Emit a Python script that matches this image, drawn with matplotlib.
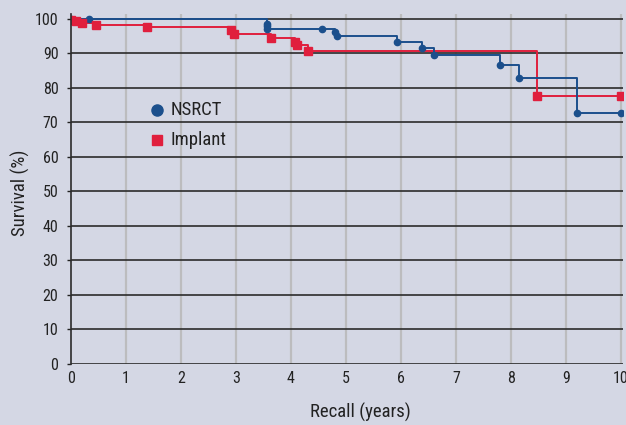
import matplotlib
matplotlib.use("Agg")
import matplotlib.pyplot as plt

# Kaplan-Meier style survival steps
nsrct_years = [0.0, 0.33, 3.56, 3.56, 3.56, 4.56, 4.80, 4.84, 5.93, 6.39, 6.61, 7.81, 8.15, 9.21, 10.0]
nsrct_surv = [100.0, 100.0, 98.6, 97.8, 97.2, 97.2, 96.1, 94.9, 93.4, 91.7, 89.6, 86.5, 82.8, 72.6, 72.6]

implant_years = [0.0, 0.09, 0.20, 0.45, 1.39, 2.91, 2.96, 3.64, 4.07, 4.11, 4.31, 8.47, 10.0]
implant_surv = [99.8, 99.5, 98.8, 98.3, 97.6, 96.8, 95.6, 94.4, 93.2, 92.3, 90.8, 77.6, 77.6]

series_names = ["NSRCT", "Implant"]
x_ticks = list(range(0, 11))
y_ticks = list(range(0, 101, 10))

bg = "#d4d7e4"
blue = "#1b4f8c"
red = "#e01f3d"
ink = "#222222"

plt.rcParams["font.family"] = ["Roboto Condensed", "Archivo Narrow", "DejaVu Sans"]

fig = plt.figure(figsize=(6.26, 4.25), dpi=100)
fig.patch.set_facecolor(bg)
ax = fig.add_axes([0.1134, 0.1435, 0.882, 0.8235])
ax.set_facecolor(bg)

ax.set_xlim(0, 10.04)
ax.set_ylim(0, 101.4)
ax.set_xticks(x_ticks)
ax.set_yticks(y_ticks)

for x in x_ticks[1:]:
    ax.axvline(x, color="#bcbcbe", lw=1.6, zorder=1)
for y in y_ticks:
    ax.axhline(y, color="#2b2b2b", lw=1.2, zorder=2)

ax.plot(nsrct_years, nsrct_surv, drawstyle="steps-post", color=blue, lw=1.4, zorder=4)
ax.plot(nsrct_years, nsrct_surv, "o", color=blue, ms=4.5, zorder=5)
ax.plot(implant_years, implant_surv, drawstyle="steps-post", color=red, lw=1.4, zorder=3)
ax.plot(implant_years, implant_surv, "s", color=red, ms=5.5, zorder=5)

for side in ["top", "right", "bottom"]:
    ax.spines[side].set_visible(False)
ax.spines["left"].set_color("#2b2b2b")
ax.spines["left"].set_linewidth(1.2)
ax.spines["left"].set_zorder(6)

ax.tick_params(axis="both", labelsize=11.5, colors=ink, length=3, width=1)
ax.tick_params(axis="y", pad=6)
ax.tick_params(axis="x", length=0, pad=5)

ax.set_xlabel("Recall (years)", fontsize=13.5, color=ink)
ax.xaxis.set_label_coords(0.525, -0.112)
ax.set_ylabel("Survival (%)", fontsize=13.5, color=ink)
ax.yaxis.set_label_coords(-0.075, 0.49)

# legend drawn by hand, as in the original artwork
ax.plot([0.156], [0.726], "o", color=blue, ms=8, transform=ax.transAxes, clip_on=False, zorder=6)
ax.text(0.181, 0.726, series_names[0], transform=ax.transAxes, va="center", fontsize=13.5, color=ink)
ax.plot([0.156], [0.64], "s", color=red, ms=7.5, transform=ax.transAxes, clip_on=False, zorder=6)
ax.text(0.181, 0.64, series_names[1], transform=ax.transAxes, va="center", fontsize=13.5, color=ink)

fig.savefig("out.png", dpi=100, facecolor=bg)
